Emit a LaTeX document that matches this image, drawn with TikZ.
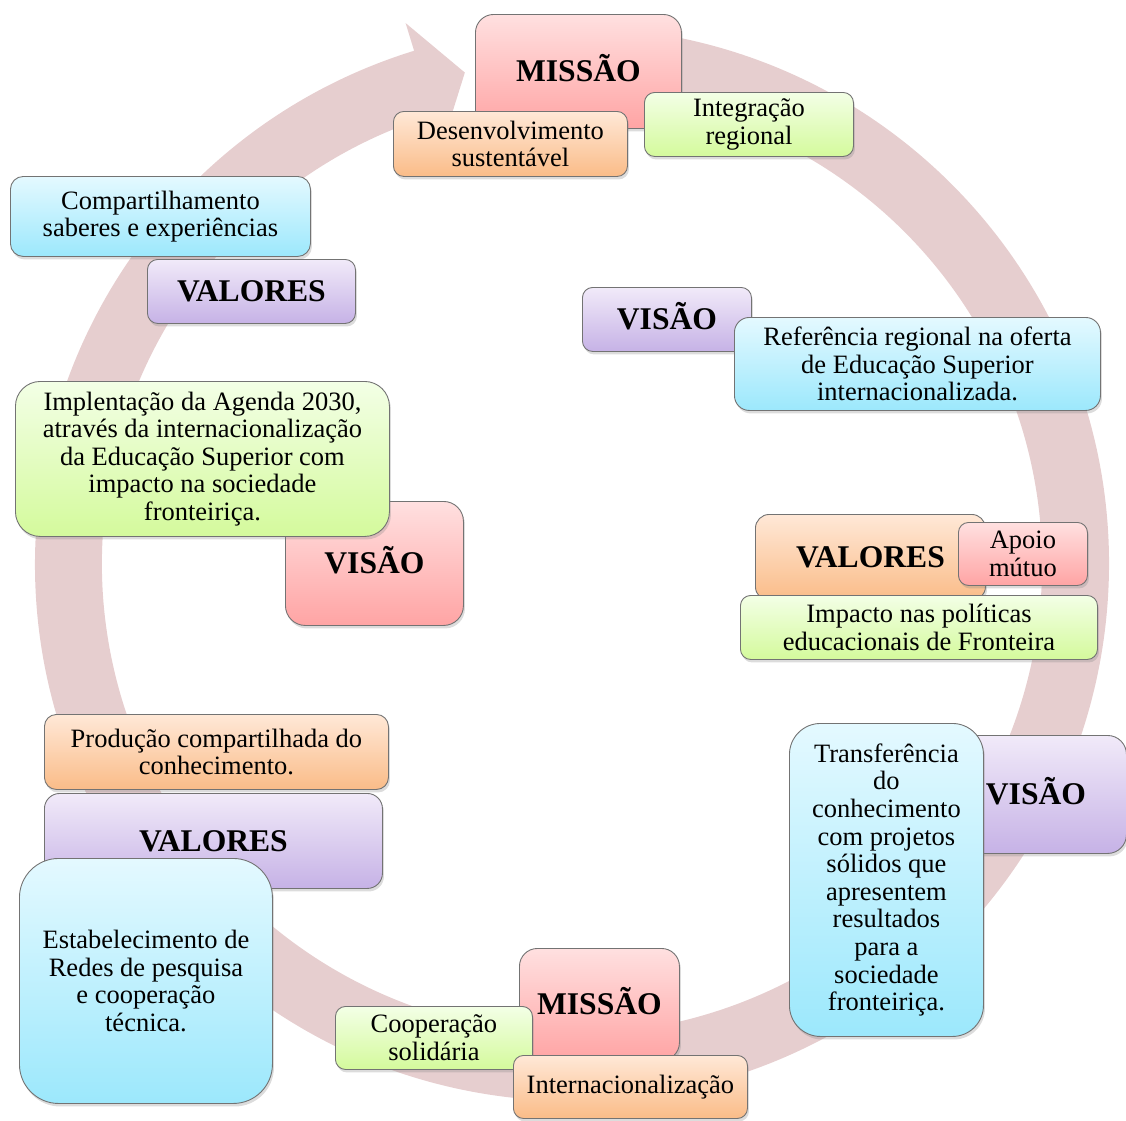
\documentclass[tikz,border=0pt]{standalone}
\usepackage{fontspec}
\setmainfont{Liberation Serif}
\usetikzlibrary{shadows}
\definecolor{ringc}{RGB}{230,206,207}
\definecolor{pinkT}{RGB}{255,224,224}\definecolor{pinkB}{RGB}{255,164,164}
\definecolor{orT}{RGB}{255,232,215}\definecolor{orB}{RGB}{250,188,136}
\definecolor{grT}{RGB}{243,255,230}\definecolor{grB}{RGB}{212,250,156}
\definecolor{blT}{RGB}{228,249,255}\definecolor{blB}{RGB}{156,232,252}
\definecolor{puT}{RGB}{241,234,249}\definecolor{puB}{RGB}{198,178,230}
\tikzset{
  base/.style={draw=black!55, line width=0.9pt, align=center, inner sep=0pt, text=black,
    drop shadow={shadow xshift=1.5pt, shadow yshift=-3pt, opacity=0.28}},
  pinkbox/.style={base, top color=pinkT, bottom color=pinkB},
  orbox/.style={base, top color=orT, bottom color=orB},
  grbox/.style={base, top color=grT, bottom color=grB},
  blbox/.style={base, top color=blT, bottom color=blB},
  pubox/.style={base, top color=puT, bottom color=puB},
  body/.style={font=\fontsize{26.5}{27.6}\selectfont},
  title/.style={font=\fontsize{31.6}{36}\selectfont\bfseries, text height=21pt, text depth=0pt},
}
\newcommand\rbox[8]{%
  \pgfmathsetmacro\bw{#4-#2}\pgfmathsetmacro\bh{#5-#3}%
  \pgfmathsetmacro\br{0.16*min(\bw,\bh)}%
  \node[#6,#7,anchor=north west,minimum width=\bw pt,minimum height=\bh pt,rounded corners=\br pt] (#1) at (#2,#3) {#8};}
\begin{document}
\begin{tikzpicture}[x=1pt,y=-1pt]
\useasboundingbox (0,0) rectangle (1126,1120);
\begin{scope}[shift={(572,564)},x=1pt,y=1pt]
  \fill[ringc] (85:537pt) arc[start angle=85, end angle=-252.9, radius=537pt]
    -- (-252.9:566pt) -- (-257.7:503pt) -- (-252.9:440pt) -- (-252.9:470pt)
    arc[start angle=-252.9, end angle=85, radius=470pt] -- cycle;
\end{scope}
% top mission
\rbox{missaoA}{475}{14}{681}{128}{pinkbox}{title}{MISSÃO}
\rbox{desenv}{393}{111}{627}{176}{orbox}{body}{Desenvolvimento\\sustentável}
\rbox{integ}{644}{92}{853}{156}{grbox}{body}{Integração\\regional}
% top left values
\rbox{compart}{10}{176}{310}{256}{blbox}{body}{Compartilhamento\\saberes e experiências}
\rbox{valoresA}{147}{259}{355}{323}{pubox}{title}{VALORES}
% top right vision
\rbox{visaoA}{582}{287}{751}{351}{pubox}{title}{VISÃO}
\rbox{refer}{734}{317}{1100}{410}{blbox}{body}{Referência regional na oferta\\de Educação Superior\\internacionalizada.}
% left vision
\rbox{visaoB}{285}{501}{463}{625}{pinkbox}{title}{VISÃO}
\rbox{implem}{15}{381}{389}{536}{grbox}{body}{Implentação da Agenda 2030,\\através da internacionalização\\da Educação Superior com\\impacto na sociedade\\fronteiriça.}
% right values
\rbox{valoresB}{755}{514}{985}{600}{orbox}{title}{VALORES}
\rbox{apoio}{958}{522}{1087}{585}{pinkbox}{body}{Apoio\\mútuo}
\rbox{impacto}{740}{595}{1097}{659}{grbox}{body}{Impacto nas políticas\\educacionais de Fronteira}
% right vision
\rbox{visaoC}{945}{735}{1126}{853}{pubox}{title}{VISÃO}
\rbox{transf}{789}{723}{983}{1036}{blbox}{body}{Transferência\\do\\conhecimento\\com projetos\\sólidos que\\apresentem\\resultados\\para a\\sociedade\\fronteiriça.}
% bottom left values
\rbox{producao}{44}{714}{388}{789}{orbox}{body}{Produção compartilhada do\\conhecimento.}
\rbox{valoresC}{44}{793}{382}{888}{pubox}{title}{VALORES}
\rbox{estab}{19}{858}{272}{1103}{blbox}{body}{Estabelecimento de\\Redes de pesquisa\\e cooperação\\técnica.}
% bottom mission
\rbox{missaoB}{519}{948}{679}{1060}{pinkbox}{title}{MISSÃO}
\rbox{coop}{335}{1006}{532}{1069}{grbox}{body}{Cooperação\\solidária}
\rbox{inter}{513}{1055}{747}{1118}{orbox}{body}{Internacionalização}
\end{tikzpicture}
\end{document}
